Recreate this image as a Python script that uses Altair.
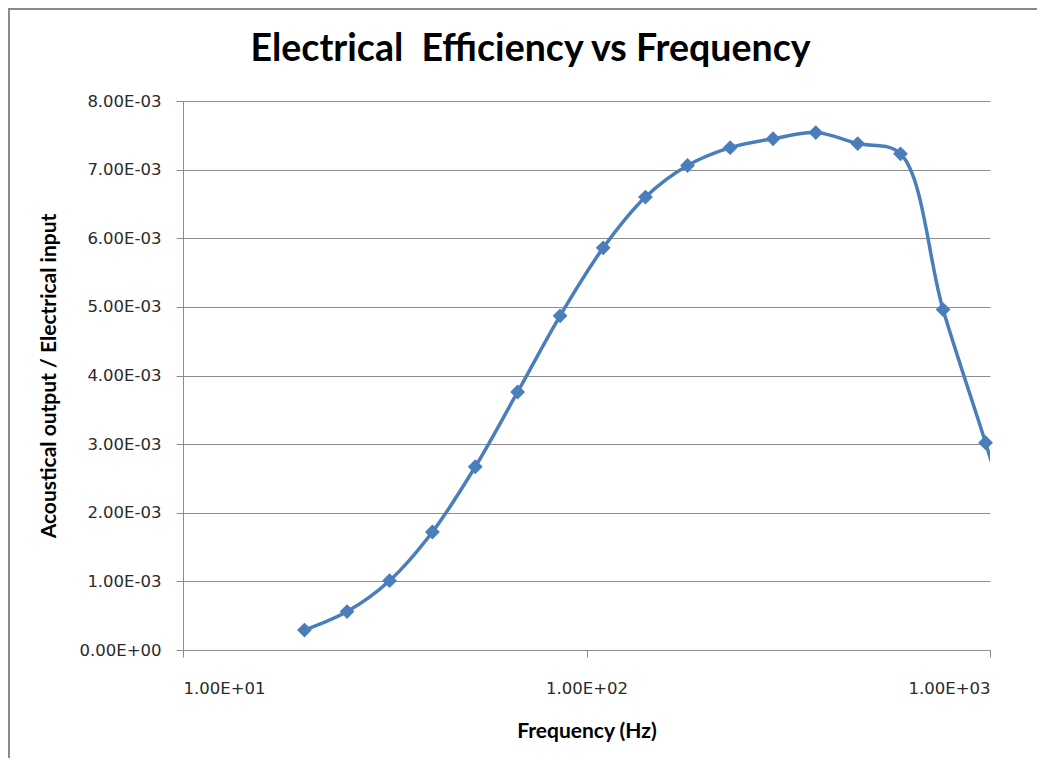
import altair as alt
import pandas as pd

# Data (frequency in Hz, efficiency ratio)
freq = [20, 25.5, 32.5, 41.5, 53, 67.5, 86, 110, 140, 178, 227, 290, 370, 470, 600, 765, 975, 1245]
eff = [0.29e-3, 0.56e-3, 1.01e-3, 1.72e-3, 2.67e-3, 3.76e-3, 4.87e-3, 5.86e-3, 6.60e-3,
       7.06e-3, 7.32e-3, 7.45e-3, 7.54e-3, 7.38e-3, 7.23e-3, 4.96e-3, 3.02e-3, 1.0e-3]
x_ticks = [10, 100, 1000]
y_ticks = [0, 0.001, 0.002, 0.003, 0.004, 0.005, 0.006, 0.007, 0.008]

df = pd.DataFrame({"f": freq, "e": eff})
df_pts = df[df["f"] <= 1000]

BLUE = "#4a7ebb"
GRID = "#8c8c8c"
W, H = 807, 549

x_enc = alt.X(
    "f:Q",
    scale=alt.Scale(type="log", domain=[10, 1000], nice=False),
    axis=alt.Axis(
        values=x_ticks,
        title="Frequency (Hz)",
        labelExpr="'1.00E+' + (round(log(datum.value)/LN10) < 10 ? '0' : '') + round(log(datum.value)/LN10)",
        grid=False,
        tickSize=7,
        labelPadding=23,
        titleX=W / 2,
        titleY=81,
        titleBaseline="middle",
    ),
)
y_enc = alt.Y(
    "e:Q",
    scale=alt.Scale(domain=[0, 0.008], nice=False),
    axis=alt.Axis(
        values=y_ticks,
        title="Acoustical output / Electrical input",
        labelExpr="datum.value == 0 ? '0.00E+00' : format(datum.value*1000, '.2f') + 'E-03'",
        grid=True,
        tickSize=7,
        labelPadding=15,
        titleX=-134,
        titleY=H / 2,
        titleBaseline="middle",
        titleAngle=270,
    ),
)

line = alt.Chart(df).mark_line(
    interpolate="catmull-rom", color=BLUE, strokeWidth=3.5, clip=True
).encode(x=x_enc, y=y_enc)

pts = alt.Chart(df_pts).mark_point(
    shape="diamond", filled=True, size=220, color=BLUE, opacity=1
).encode(x="f:Q", y="e:Q")

frame = alt.Chart(pd.DataFrame({"k": [0]})).mark_rect(
    fill=None, stroke="#8a8a8a", strokeWidth=2
).encode(
    x=alt.value(-174), x2=alt.value(W + 80), y=alt.value(-92), y2=alt.value(H + 140)
)

chart = alt.layer(frame, line, pts).properties(
    width=W,
    height=H,
    title=alt.TitleParams(
        text="Electrical \u00a0Efficiency vs Frequency",
        anchor="middle",
        dx=-56,
        offset=-90,
        baseline="alphabetic",
        font="Lato",
        fontSize=37.5,
        fontWeight="bold",
        color="#000000",
    ),
    autosize=alt.AutoSizeParams(type="none"),
    padding={"left": 175, "top": 93, "right": 47, "bottom": 108},
).configure_view(stroke=None).configure_axis(
    labelFont="DejaVu Sans",
    labelFontSize=16.5,
    labelColor="#2a2a2a",
    titleFont="Lato",
    titleFontSize=21,
    titleFontWeight="bold",
    titleColor="#000000",
    domainColor=GRID,
    tickColor=GRID,
    gridColor=GRID,
    domainWidth=1,
    gridWidth=1,
    tickWidth=1,
)

chart.save("out.html", embed_options={"renderer": "svg", "actions": False})
